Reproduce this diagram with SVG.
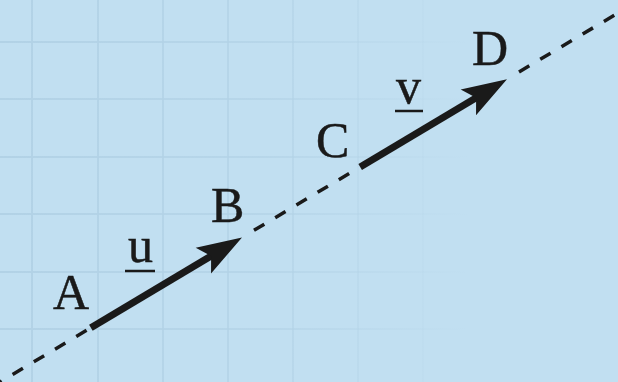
<svg xmlns="http://www.w3.org/2000/svg" width="618" height="382" viewBox="0 0 618 382">
  <defs>
    <linearGradient id="gridfade" gradientUnits="userSpaceOnUse" x1="0" y1="0" x2="470" y2="0">
      <stop offset="0" stop-color="#b2d2e6" stop-opacity="1"/>
      <stop offset="0.55" stop-color="#b2d2e6" stop-opacity="0.7"/>
      <stop offset="1" stop-color="#b2d2e6" stop-opacity="0"/>
    </linearGradient>
    <style>
      .grid { stroke: url(#gridfade); stroke-width: 2; fill: none; }
      .dash { stroke: #1a1a1a; stroke-width: 3.5; stroke-dasharray: 12 12.7; fill: none; }
      .shaft { stroke: #1a1a1a; stroke-width: 7; fill: none; }
      .head { fill: #1a1a1a; }
      .lbl { font-family: "Liberation Serif", "Times New Roman", serif; font-size: 50px; fill: #1a1a1a; stroke: #1a1a1a; stroke-width: 0.5; }
      .ul { stroke: #1a1a1a; stroke-width: 2.5; }
    </style>
  </defs>
  <rect x="0" y="0" width="618" height="382" fill="#c1dff1"/>
  <g id="grid">
    <path class="grid" d="M32 0V382M98 0V382M163 0V382M228 0V382M293 0V382M358 0V382M423 0V382"/>
    <path class="grid" d="M0 42H470M0 99H470M0 157H470M0 214H470M0 272H470M0 329H470"/>
  </g>
  <g id="connectors">
    <path class="dash" d="M0 382L90 328.3" stroke-dashoffset="10"/>
    <path class="dash" d="M254 230.3L360 167"/>
    <path class="dash" d="M519 71.9L618 13"/>
    <g id="arrow-u" transform="translate(242 237.5) rotate(-30.84)">
      <line class="shaft" x1="-176" y1="0" x2="-32" y2="0"/>
      <polygon class="head" points="0,0 -45,-15 -36,0 -45,15"/>
    </g>
    <g id="arrow-v" transform="translate(507 79.3) rotate(-30.84)">
      <line class="shaft" x1="-171" y1="0" x2="-32" y2="0"/>
      <polygon class="head" points="0,0 -45,-15 -36,0 -45,15"/>
    </g>
  </g>
  <g id="node-A"><text class="lbl" x="53" y="309">A</text></g>
  <g id="node-B"><text class="lbl" x="211" y="222">B</text></g>
  <g id="node-C"><text class="lbl" x="316" y="157">C</text></g>
  <g id="node-D"><text class="lbl" x="472" y="65">D</text></g>
  <g id="label-u"><text class="lbl" x="128" y="262">u</text><line class="ul" x1="125" y1="271" x2="155" y2="271"/></g>
  <g id="label-v"><text class="lbl" x="396" y="103">v</text><line class="ul" x1="395" y1="111" x2="423" y2="111"/></g>
</svg>
